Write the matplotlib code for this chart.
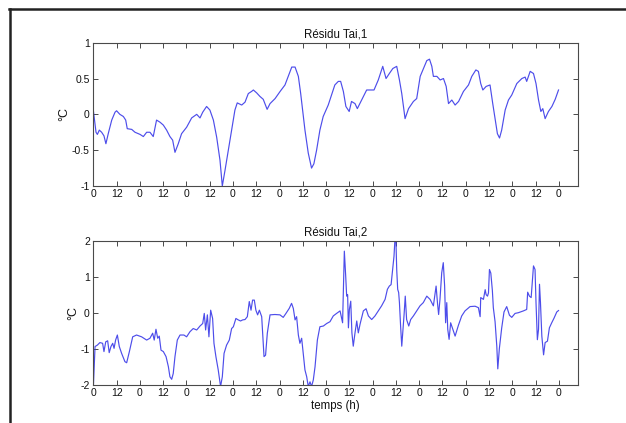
import matplotlib
matplotlib.use("Agg")
import matplotlib.pyplot as plt
from matplotlib.lines import Line2D

# ---------------- data ----------------
hours_1 = [0, 1.4, 2.1, 3.1, 4.3, 5.5, 6.5, 7.7, 9.5, 11.2, 12.0, 13.7, 15.5, 16.7, 17.5,
           19.8, 21.5, 24.1, 25.8, 27.5, 29.2, 30.9, 32.6, 34.4, 36.1, 37.8, 39.5, 40.9,
           42.1, 43.8, 45.5, 48.1, 50.7, 53.3, 55.0, 56.4, 58.4, 60.1, 61.9, 63.6, 65.3,
           66.5, 67.9, 69.6, 71.3, 73.0, 74.2, 76.5, 78.2, 79.9, 81.6, 82.5, 84.2, 85.9,
           87.6, 89.6, 91.1, 93.7, 96.3, 98.8, 100.5, 102.3, 104.0, 105.7, 106.9, 107.9,
           109.1, 110.8, 112.5, 113.7, 115.1, 116.8, 118.5, 121.1, 122.8, 124.5, 126.3,
           127.5, 128.9, 130.2, 131.9, 133.1, 134.9, 136.1, 138.3, 140.9, 142.6, 144.7,
           146.9, 149.2, 150.9, 152.6, 154.4, 156.4, 157.8, 159.0, 159.9, 160.7, 162.5,
           165.0, 166.7, 168.5, 170.2, 171.9, 173.3, 174.5, 175.3, 177.1, 178.8, 180.5,
           181.9, 183.1, 184.8, 186.5, 188.3, 190.8, 193.4, 195.1, 197.2, 198.5, 199.7,
           200.8, 202.5, 204.5, 205.9, 207.1, 208.3, 209.4, 210.5, 212.3, 214.0, 215.7,
           218.3, 220.9, 222.6, 223.4, 225.2, 226.9, 228.2, 229.5, 230.7, 231.7, 232.9,
           234.6, 236.4, 238.1, 239.8]
resid_1 = [0.06, -0.25, -0.28, -0.22, -0.25, -0.30, -0.41, -0.27, -0.08, 0.03, 0.05, 0.0,
           -0.03, -0.08, -0.20, -0.21, -0.25, -0.28, -0.31, -0.25, -0.25, -0.31, -0.08,
           -0.11, -0.15, -0.22, -0.31, -0.36, -0.53, -0.41, -0.27, -0.18, -0.05, 0.0,
           -0.05, 0.03, 0.11, 0.06, -0.08, -0.32, -0.64, -1.0, -0.78, -0.5, -0.22, 0.06,
           0.16, 0.13, 0.17, 0.29, 0.32, 0.34, 0.30, 0.25, 0.21, 0.07, 0.15, 0.22, 0.32,
           0.41, 0.53, 0.66, 0.66, 0.53, 0.29, 0.06, -0.22, -0.54, -0.75, -0.69, -0.5,
           -0.22, -0.03, 0.13, 0.27, 0.41, 0.46, 0.46, 0.32, 0.11, 0.04, 0.18, 0.15, 0.08,
           0.2, 0.34, 0.34, 0.34, 0.48, 0.67, 0.50, 0.57, 0.64, 0.67, 0.48, 0.29, 0.11,
           -0.06, 0.08, 0.18, 0.22, 0.53, 0.64, 0.75, 0.77, 0.67, 0.53, 0.53, 0.48, 0.50,
           0.39, 0.15, 0.20, 0.13, 0.18, 0.32, 0.41, 0.53, 0.62, 0.60, 0.43, 0.34, 0.39,
           0.41, 0.15, -0.06, -0.27, -0.33, -0.22, 0.06, 0.20, 0.27, 0.43, 0.50, 0.52,
           0.46, 0.60, 0.57, 0.43, 0.20, 0.04, 0.08, -0.06, 0.04, 0.11, 0.21, 0.34]

hours_2 = [0.0, 0.9, 2.1, 3.4, 4.8, 5.5, 6.4, 7.4, 8.2, 9.1, 10.0, 10.7, 11.5, 12.4, 13.4,
           14.6, 16.3, 17.2, 18.6, 20.3, 22.3, 24.9, 27.5, 29.2, 30.6, 31.4, 32.3, 33.2,
           34.0, 34.9, 36.1, 37.5, 38.7, 39.5, 40.4, 41.2, 42.1, 43.3, 44.7, 46.7, 48.1,
           49.8, 51.5, 53.3, 55.0, 56.4, 57.2, 57.9, 58.8, 59.6, 60.5, 61.5, 62.2, 63.2,
           64.4, 65.6, 66.5, 67.4, 68.7, 70.1, 71.3, 72.2, 73.5, 74.7, 75.9, 77.0, 78.2,
           79.4, 80.4, 81.3, 82.1, 83.0, 83.8, 84.7, 85.6, 86.8, 88.0, 88.8, 89.7, 91.1,
           93.6, 96.2, 97.9, 99.3, 101.0, 102.2, 103.1, 104.0, 104.8, 105.7, 106.5, 107.4,
           108.2, 109.1, 110.0, 110.8, 111.7, 112.5, 113.4, 114.3, 115.5, 116.8, 118.6,
           120.3, 122.0, 123.7, 125.4, 127.2, 128.5, 129.4, 130.1, 130.6, 131.1, 131.5,
           132.0, 132.7, 133.3, 134.0, 134.9, 135.8, 136.6, 137.5, 139.2, 140.6, 141.8,
           143.5, 145.2, 146.9, 148.6, 150.4, 151.6, 152.6, 153.5, 154.3, 155.0, 155.5,
           156.0, 156.4, 156.9, 157.4, 157.8, 158.4, 159.0, 159.5, 160.2, 160.8, 161.5,
           162.6, 163.6, 165.0, 166.7, 168.4, 170.1, 171.9, 173.6, 175.3, 176.7, 177.4,
           178.0, 178.7, 179.6, 180.4, 181.1, 181.6, 182.2, 182.7, 183.4, 184.2, 185.3,
           186.5, 188.2, 189.9, 191.6, 194.2, 196.8, 198.5, 199.4, 199.7, 201.1, 202.0,
           202.5, 203.2, 203.7, 204.2, 204.9, 205.7, 206.2, 207.1, 208.0, 208.5, 209.3,
           210.5, 211.7, 213.1, 214.5, 215.7, 217.4, 219.1, 221.7, 223.4, 223.9, 224.8,
           225.7, 226.9, 227.7, 228.2, 228.9, 229.5, 230.0, 230.5, 231.2, 232.1, 232.9,
           234.1, 235.1, 236.3, 237.5, 238.9, 239.8]
resid_2 = [-2.1, -0.94, -0.9, -0.83, -0.85, -1.08, -0.81, -0.78, -1.11, -0.94, -0.85, -0.99,
           -0.76, -0.62, -0.94, -1.13, -1.36, -1.39, -1.08, -0.67, -0.62, -0.67, -0.76,
           -0.71, -0.57, -0.76, -0.46, -0.71, -0.65, -1.04, -1.08, -1.22, -1.5, -1.78,
           -1.85, -1.69, -1.22, -0.76, -0.62, -0.62, -0.67, -0.53, -0.44, -0.48, -0.37,
           -0.3, -0.02, -0.48, -0.06, -0.67, 0.07, -0.16, -0.85, -1.22, -1.59, -2.05,
           -1.78, -1.13, -0.9, -0.76, -0.44, -0.39, -0.16, -0.2, -0.23, -0.2, -0.19, -0.11,
           0.31, 0.07, 0.35, 0.35, 0.07, -0.06, 0.07, -0.11, -1.22, -1.18, -0.57, -0.06,
           -0.05, -0.06, -0.13, -0.02, 0.12, 0.26, 0.12, -0.2, -0.11, -0.62, -0.85, -0.71,
           -1.13, -1.59, -1.78, -2.05, -1.92, -2.05, -1.87, -1.5, -0.76, -0.39, -0.37,
           -0.3, -0.25, -0.09, -0.02, 0.05, -0.28, 1.71, 1.02, 0.46, 0.5, -0.42, 0.09,
           0.32, -0.56, -0.93, -0.56, -0.23, -0.56, -0.32, 0.05, 0.11, -0.09, -0.19,
           -0.09, 0.05, 0.19, 0.37, 0.65, 0.74, 0.78, 1.2, 1.57, 2.05, 2.0, 1.2, 0.65,
           0.56, 0.28, -0.37, -0.93, -0.56, -0.05, 0.46, -0.19, -0.37, -0.19, -0.09, 0.05,
           0.19, 0.28, 0.46, 0.37, 0.19, 0.74, 0.28, -0.05, 0.37, 1.11, 1.39, 0.74, -0.28,
           0.28, -0.46, -0.74, -0.28, -0.46, -0.65, -0.35, -0.09, 0.05, 0.17, 0.18, 0.14,
           -0.11, 0.42, 0.37, 0.64, 0.5, 0.46, 0.55, 1.2, 1.1, 0.62, 0.14, -0.25, -0.94,
           -1.56, -1.0, -0.43, 0.02, 0.17, -0.07, -0.13, -0.02, 0.0, 0.05, 0.09, 0.57,
           0.46, 0.42, 1.3, 1.2, 0.28, -0.75, -0.46, 0.79, 0.28, -0.65, -1.17, -0.83,
           -0.79, -0.42, -0.28, -0.15, 0.02, 0.06]

xticks = list(range(0, 241, 12))
xticklabels = ["0" if t % 24 == 0 else "12" for t in xticks]
titles = ["Résidu Tai,1", "Résidu Tai,2"]
ylabel = "°C"
xlabel = "temps (h)"

# ---------------- figure ----------------
W, H = 626, 423
fig = plt.figure(figsize=(W / 100, H / 100), dpi=100)
fig.patch.set_facecolor("white")
plt.rcParams["font.family"] = ["Liberation Sans", "DejaVu Sans"]

def frac_box(l, t, r, b):
    return [l / W, 1 - b / H, (r - l) / W, (b - t) / H]

ax1 = fig.add_axes(frac_box(93.3, 42.7, 578.3, 186))
ax2 = fig.add_axes(frac_box(93.3, 240.7, 578.3, 384.7))

line_color = "#3a3ae8"
edge = "#4a4a4a"

for ax, hrs, vals, ttl, ylim, yt, ytl in [
        (ax1, hours_1, resid_1, titles[0], (-1, 1), [-1, -0.5, 0, 0.5, 1],
         ["-1", "-0.5", "0", "0.5", "1"]),
        (ax2, hours_2, resid_2, titles[1], (-2, 2), [-2, -1, 0, 1, 2],
         ["-2", "-1", "0", "1", "2"])]:
    ax.plot(hrs, vals, color=line_color, lw=0.85, alpha=0.9)
    ax.set_xlim(0, 250)
    ax.set_ylim(*ylim)
    ax.set_xticks(xticks)
    ax.set_xticklabels(xticklabels)
    ax.set_yticks(yt)
    ax.set_yticklabels(ytl)
    ax.tick_params(direction="in", length=3.5, width=0.7, color=edge,
                   labelsize=7.5, labelcolor="#111111", top=True, right=True, pad=2.5)
    for s in ax.spines.values():
        s.set_color(edge)
        s.set_linewidth(0.8)
    ax.set_title(ttl, fontsize=8.3, pad=3.5, color="#111111")
    ax.set_ylabel(ylabel, fontsize=9, labelpad=1, color="#111111")

ax2.set_xlabel(xlabel, fontsize=8.3, labelpad=1, color="#111111")

# outer frame (cut at right and bottom)
fig.add_artist(Line2D([9 / W, 1.0], [1 - 9.5 / H, 1 - 9.5 / H], color="#222222", lw=1.8,
                      transform=fig.transFigure))
fig.add_artist(Line2D([9.5 / W, 9.5 / W], [0.0, 1 - 9 / H], color="#222222", lw=1.8,
                      transform=fig.transFigure))

fig.savefig("out.png", dpi=100, facecolor="white")
